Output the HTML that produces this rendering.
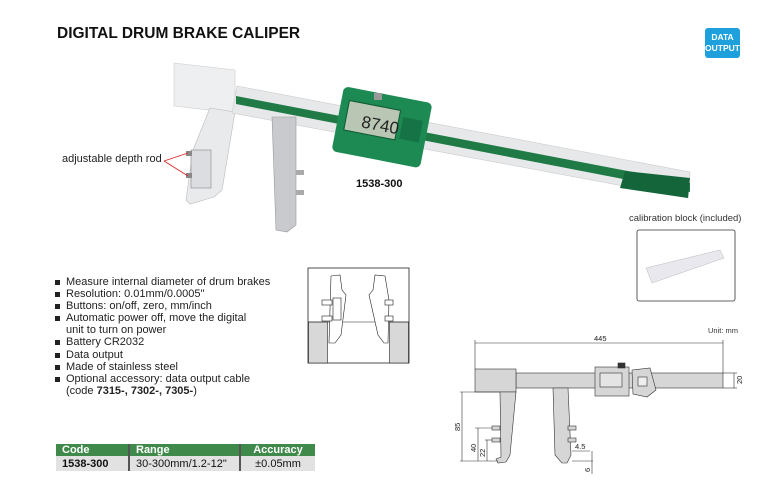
<!DOCTYPE html>
<html><head><meta charset="utf-8"><style>
html,body{margin:0;padding:0;background:#fff;}
body{width:780px;height:492px;position:relative;overflow:hidden;font-family:"Liberation Sans",Arial,sans-serif;}
.t{position:absolute;white-space:nowrap;}
ul{position:absolute;left:54px;top:276px;margin:0;padding:0;list-style:none;font-size:11px;line-height:12.1px;color:#222;}
ul li{padding-left:12px;position:relative;}
ul li:before{content:"";position:absolute;left:1px;top:4px;width:5px;height:5px;background:#222;}
table{position:absolute;left:56px;top:444px;border-collapse:collapse;font-size:11px;}
td{padding:0 0 0 6px;height:15px;}
</style></head><body>
<div class="t" style="left:57px;top:25px;font-size:15.5px;font-weight:bold;color:#111;">DIGITAL DRUM BRAKE CALIPER</div>
<div class="t" style="left:705px;top:28px;width:35px;height:30px;background:#1ea0dd;border-radius:3px;color:#fff;font-size:8.5px;font-weight:bold;text-align:center;line-height:10.5px;padding-top:4px;box-sizing:border-box;">DATA<br>OUTPUT</div>
<div class="t" style="left:62px;top:153px;font-size:11px;color:#222;">adjustable depth rod</div>
<div class="t" style="left:356px;top:178px;font-size:11px;font-weight:bold;color:#111;">1538-300</div>
<div class="t" style="left:629px;top:213px;font-size:9.5px;color:#333;">calibration block (included)</div>
<div class="t" style="left:708px;top:326px;font-size:7.5px;color:#333;">Unit: mm</div>

<svg width="780" height="492" style="position:absolute;left:0;top:0" xmlns="http://www.w3.org/2000/svg">
<!-- photo caliper -->
<polygon points="174,63 235,70 235,113 174,106" fill="#eeeff1" stroke="#ccc" stroke-width="0.6"/>
<polygon points="210,108 235,112 222,190 214,197 190,204 186,200 193,150" fill="#e9eaec" stroke="#bbb" stroke-width="0.6"/>
<polygon points="237,86 690,172 688,198 232,113" fill="#e6e8ea" stroke="#ccc" stroke-width="0.6"/>
<polygon points="236,96 690,183 690,192 236,104" fill="#1f7a46"/>
<polygon points="625,171 690,178 688,198 620,188" fill="#14663a"/>
<polygon points="272,117 296,117 296,225 287,232 276,230" fill="#c9cacd" stroke="#999" stroke-width="0.6"/>
<rect x="296" y="170" width="8" height="5" fill="#aaa"/><rect x="296" y="190" width="8" height="5" fill="#aaa"/>
<rect x="191" y="150" width="20" height="38" fill="#dcdde0" stroke="#888" stroke-width="0.6"/>
<rect x="186" y="151" width="6" height="5" fill="#888"/><rect x="186" y="173" width="6" height="5" fill="#888"/>
<line x1="164" y1="161" x2="188" y2="153" stroke="#d22" stroke-width="0.8"/>
<line x1="164" y1="161" x2="188" y2="176" stroke="#d22" stroke-width="0.8"/>
<g transform="translate(381,127) rotate(11)">
<rect x="-44" y="-33" width="90" height="66" rx="5" fill="#1c8a52"/>
<rect x="-36" y="-20" width="52" height="30" fill="#b9c6b4" stroke="#0f5a33"/>
<text x="-20" y="4" font-size="17" fill="#222" font-family="Liberation Sans">8740</text>
<rect x="20" y="-14" width="20" height="22" fill="#157346"/>
</g>
<rect x="374" y="93" width="8" height="7" fill="#999"/>
<!-- calibration block -->
<rect x="637" y="230" width="98" height="71" rx="2" fill="#fff" stroke="#333" stroke-width="0.8"/>
<polygon points="646,268 720,250 724,258 652,283" fill="#e8e8ee" stroke="#bbb" stroke-width="0.5"/>
<!-- small inset -->
<rect x="308" y="268" width="101" height="95" fill="#fff" stroke="#222" stroke-width="0.8"/>
<rect x="308.5" y="322" width="19" height="41" fill="#d8d8d8" stroke="#222" stroke-width="0.6"/>
<rect x="389.5" y="322" width="19" height="41" fill="#d8d8d8" stroke="#222" stroke-width="0.6"/>
<line x1="308" y1="322" x2="409" y2="322" stroke="#222" stroke-width="0.6"/>
<path d="M331,276 L340,275 L342,290 L346,295 L341,335 L335,343 L329,343 Z" fill="#fff" stroke="#222" stroke-width="0.6"/>
<path d="M385,276 L375,275 L373,290 L369,295 L378,335 L384,343 L388,343 L389,300 Z" fill="#fff" stroke="#222" stroke-width="0.6"/>
<rect x="333" y="298" width="8" height="22" fill="#fff" stroke="#222" stroke-width="0.6"/>
<rect x="322" y="300" width="10" height="5" fill="#fff" stroke="#222" stroke-width="0.6"/>
<rect x="322" y="316" width="10" height="5" fill="#fff" stroke="#222" stroke-width="0.6"/>
<rect x="385" y="300" width="8" height="5" fill="#fff" stroke="#222" stroke-width="0.6"/>
<rect x="385" y="316" width="8" height="5" fill="#fff" stroke="#222" stroke-width="0.6"/>
<!-- technical drawing -->
<g stroke="#333" stroke-width="0.6" fill="none" font-family="Liberation Sans">
<line x1="475" y1="343" x2="723" y2="343"/>
<line x1="475" y1="340" x2="475" y2="369"/><line x1="723" y1="340" x2="723" y2="373"/>
<rect x="516" y="373" width="207" height="15" fill="#d6d6d6"/>
<rect x="475" y="369" width="41" height="23" fill="#d6d6d6"/>
<polygon points="500,392 516,392 510,455 506,462 498,463 496,459 501,457" fill="#d6d6d6"/>
<polygon points="553,388 568,388 571,455 567,463 562,463 555,455" fill="#d6d6d6"/>
<rect x="595" y="367" width="34" height="29" fill="#d6d6d6"/>
<rect x="600" y="373" width="22" height="14" fill="#e4e4e4"/>
<polygon points="632,370 650,368 656,390 647,397 633,394" fill="#d6d6d6"/>
<rect x="638" y="377" width="9" height="9" fill="#eee"/>
<rect x="618" y="363" width="7" height="5" fill="#333"/>
<rect x="492" y="426" width="8" height="4" fill="#d6d6d6"/><rect x="492" y="438" width="8" height="4" fill="#d6d6d6"/>
<rect x="568" y="426" width="8" height="4" fill="#d6d6d6"/><rect x="568" y="438" width="8" height="4" fill="#d6d6d6"/>
<line x1="723" y1="373" x2="737" y2="373"/><line x1="723" y1="388" x2="737" y2="388"/><line x1="734" y1="373" x2="734" y2="388"/>
<line x1="460" y1="392" x2="500" y2="392"/><line x1="460" y1="461" x2="498" y2="461"/><line x1="462" y1="392" x2="462" y2="461"/>
<line x1="475" y1="428" x2="492" y2="428"/><line x1="478" y1="428" x2="478" y2="461"/>
<line x1="485" y1="440" x2="492" y2="440"/><line x1="487" y1="440" x2="487" y2="461"/>
<line x1="572" y1="451" x2="590" y2="451"/><line x1="572" y1="461" x2="593" y2="461"/><line x1="592" y1="451" x2="592" y2="474"/>
</g>
<g font-family="Liberation Sans" font-size="7.5" fill="#222">
<text x="594" y="341">445</text>
<text x="575" y="449">4.5</text>
<text transform="translate(742,384) rotate(-90)">20</text>
<text transform="translate(460,431) rotate(-90)">85</text>
<text transform="translate(476,452) rotate(-90)">40</text>
<text transform="translate(485,457) rotate(-90)">22</text>
<text transform="translate(590,472) rotate(-90)">6</text>
</g>
</svg>

<ul>
<li>Measure internal diameter of drum brakes</li>
<li>Resolution: 0.01mm/0.0005"</li>
<li>Buttons: on/off, zero, mm/inch</li>
<li>Automatic power off, move the digital<br>unit to turn on power</li>
<li>Battery CR2032</li>
<li>Data output</li>
<li>Made of stainless steel</li>
<li>Optional accessory: data output cable<br>(code <b>7315-, 7302-, 7305-</b>)</li>
</ul>

<table>
<tr style="background:#3f8a4a;color:#fff;font-weight:bold;height:12px;">
<td style="width:66px;height:12px;">Code</td><td style="width:103px;height:12px;border-left:2px solid #555;">Range</td><td style="width:74px;height:12px;border-left:2px solid #555;text-align:center;padding:0;">Accuracy</td></tr>
<tr style="background:#e2e2e2;color:#111;">
<td style="font-weight:bold;">1538-300</td><td style="border-left:2px solid #555;">30-300mm/1.2-12"</td><td style="border-left:2px solid #555;text-align:center;padding:0;">±0.05mm</td></tr>
</table>
</body></html>
